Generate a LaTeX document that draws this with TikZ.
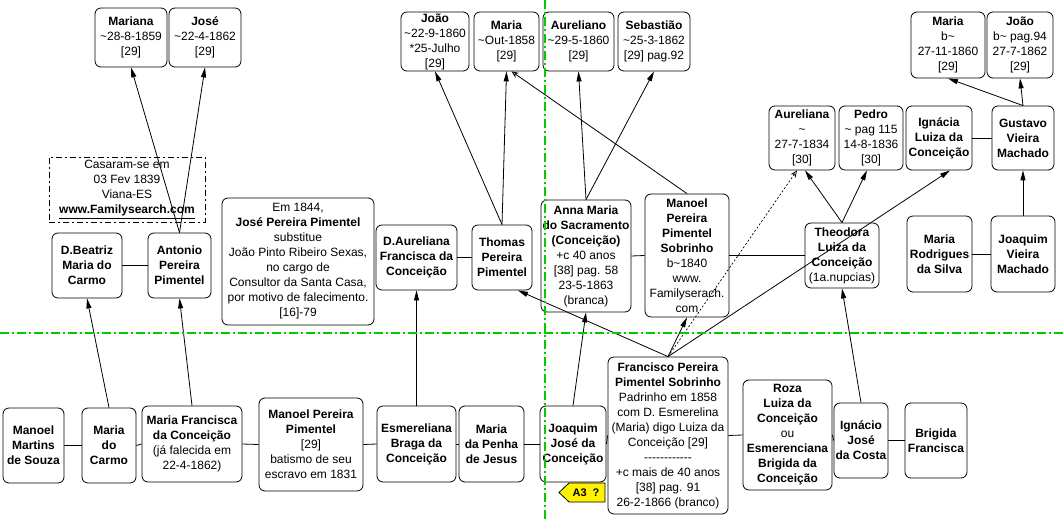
\documentclass[tikz,border=0pt]{standalone}
\usepackage{fontspec}
\setmainfont{Liberation Sans}
\usetikzlibrary{arrows.meta,calc}
\newcommand\tld{\textasciitilde}
\definecolor{guidegreen}{RGB}{0,204,0}
\tikzset{
  box/.style={draw=black,line width=0.8pt,rounded corners=6pt,align=center,inner sep=0pt,font=\fontsize{12}{15}\selectfont},
  note/.style={draw=black,line width=0.8pt,dash pattern=on 6pt off 3pt on 2pt off 3pt,align=center,inner sep=0pt,font=\fontsize{12}{15}\selectfont},
  link/.style={line width=0.8pt},
  arr/.style={line width=0.8pt,-{Triangle[length=10pt,width=5pt]}},
  oarr/.style={line width=0.8pt,-{Stealth[open,length=7pt,width=6pt]}},
  darr/.style={line width=0.7pt,dash pattern=on 2pt off 2pt,-{Stealth[open,length=7pt,width=6pt]}},
  guide/.style={line width=1.3pt,color=guidegreen,dash pattern=on 9pt off 3pt on 2pt off 3pt},
  tag/.style={draw=black,line width=0.8pt,fill=yellow}
}
\newcommand\bx[6]{\node[box,minimum width=#4pt,minimum height=#5pt] (#1) at (#2,#3) {#6};}
\begin{document}
\begin{tikzpicture}[x=1pt,y=-1pt]
\useasboundingbox (0,0) rectangle (1064,521);
% top row left
\bx{mariana}{131}{37.5}{72}{59}{\textbf{Mariana}\\\tld28-8-1859\\{[29]}}
\bx{jose}{205}{37.5}{72}{59}{\textbf{José}\\\tld22-4-1862\\{[29]}}
\node[note,minimum width=156pt,minimum height=65pt] (casaram) at (127,189.5) {Casaram-se em\\03 Fev 1839\\Viana-ES\\\underline{\textbf{www.Familysearch.com}}};
% top row middle
\bx{joao}{435}{41.5}{68}{59}{\textbf{João}\\\tld22-9-1860\\*25-Julho\\{[29]}}
\bx{maria}{506.5}{41.5}{65}{59}{\textbf{Maria}\\\tld Out-1858\\{[29]}}
\bx{aureliano}{578.5}{41.5}{71}{59}{\textbf{Aureliano}\\\tld29-5-1860\\{[29]}}
\bx{sebastiao}{654}{41.5}{72}{59}{\textbf{Sebastião}\\\tld25-3-1862\\{[29] pag.92}}
% top right
\bx{mariab}{948}{45}{74}{66}{\textbf{Maria}\\b\tld\\27-11-1860\\{[29]}}
\bx{joaob}{1020}{45}{66}{66}{\textbf{João}\\b\tld{} pag.94\\27-7-1862\\{[29]}}
\bx{aureliana}{802}{138}{66}{64}{\textbf{Aureliana}\\\tld\\27-7-1834\\{[30]}}
\bx{pedro}{871}{138}{64}{64}{\textbf{Pedro}\\\tld{} pag 115\\14-8-1836\\{[30]}}
\bx{ignacia}{939}{138}{66}{64}{\textbf{Ignácia}\\\textbf{Luiza da}\\\textbf{Conceição}}
\bx{gustavo}{1023}{138}{62}{64}{\textbf{Gustavo}\\\textbf{Vieira}\\\textbf{Machado}}
% middle row
\bx{dbeatriz}{87}{265.5}{70}{65}{\textbf{D.Beatriz}\\\textbf{Maria do}\\\textbf{Carmo}}
\bx{antonio}{179.5}{265.5}{63}{65}{\textbf{Antonio}\\\textbf{Pereira}\\\textbf{Pimentel}}
\bx{em1844}{298}{261.5}{152}{127}{Em 1844,\\\textbf{José Pereira Pimentel}\\substitue\\João Pinto Ribeiro Sexas,\\no cargo de\\Consultor da Santa Casa,\\por motivo de falecimento.\\{[16]-79}}
\bx{daureliana}{416.5}{257.5}{81}{65}{\textbf{D.Aureliana}\\\textbf{Francisca da}\\\textbf{Conceição}}
\bx{thomas}{502}{257.5}{60}{65}{\textbf{Thomas}\\\textbf{Pereira}\\\textbf{Pimentel}}
\bx{anna}{586}{256}{90}{112}{\textbf{Anna Maria}\\\textbf{do Sacramento}\\\textbf{(Conceição)}\\+c 40 anos\\{[38] pag. 58}\\23-5-1863\\(branca)}
\bx{manoels}{687}{255.5}{84}{123}{\textbf{Manoel}\\\textbf{Pereira}\\\textbf{Pimentel}\\\textbf{Sobrinho}\\b\tld1840\\www.\\Familyserach.\\com}
\bx{theodora}{842}{255.5}{74}{65}{\textbf{Theodora}\\\textbf{Luiza da}\\\textbf{Conceição}\\(1a.nupcias)}
\bx{mariar}{939.5}{254}{65}{76}{\textbf{Maria}\\\textbf{Rodrigues}\\\textbf{da Silva}}
\bx{joaquimv}{1023}{254}{64}{76}{\textbf{Joaquim}\\\textbf{Vieira}\\\textbf{Machado}}
% bottom row
\bx{manoelm}{33.5}{445.5}{61}{75}{\textbf{Manoel}\\\textbf{Martins}\\\textbf{de Souza}}
\bx{mariac}{109}{445.5}{54}{75}{\textbf{Maria}\\\textbf{do}\\\textbf{Carmo}}
\bx{mariaf}{192}{444}{100}{76}{\textbf{Maria Francisca}\\\textbf{da Conceição}\\(já falecida em\\22-4-1862)}
\bx{manoelp}{311}{444.5}{104}{93}{\textbf{Manoel Pereira}\\\textbf{Pimentel}\\{[29]}\\batismo de seu\\escravo em 1831}
\bx{esmer}{416.5}{444}{79}{76}{\textbf{Esmereliana}\\\textbf{Braga da}\\\textbf{Conceição}}
\bx{penha}{491.5}{444}{65}{76}{\textbf{Maria}\\\textbf{da Penha}\\\textbf{de Jesus}}
\bx{joaquimj}{573}{444}{66}{76}{\textbf{Joaquim}\\\textbf{José da}\\\textbf{Conceição}}
\bx{francisco}{668}{435.5}{120}{157}{\textbf{Francisco Pereira}\\\textbf{Pimentel Sobrinho}\\Padrinho em 1858\\com D. Esmerelina\\(Maria) digo Luiza da\\Conceição {[29]}\\-{}-{}-{}-{}-{}-{}-{}-{}-{}-{}-{}-\\+c mais de 40 anos\\{[38] pag. 91}\\26-2-1866 (branco)}
\bx{roza}{787.5}{435}{89}{110}{\textbf{Roza}\\\textbf{Luiza da}\\\textbf{Conceição}\\ou\\\textbf{Esmerenciana}\\\textbf{Brigida da}\\\textbf{Conceição}}
\bx{ignacio}{861}{440.5}{54}{75}{\textbf{Ignácio}\\\textbf{José}\\\textbf{da Costa}}
\bx{brigida}{936}{440.5}{62}{75}{\textbf{Brigida}\\\textbf{Francisca}}
% tag
\draw[tag] (559,492.5) -- (569,483) -- (605,483) -- (605,502) -- (569,502) -- cycle;
\node[font=\fontsize{11}{13}\selectfont\bfseries,inner sep=0pt] (a3) at (586,492.5) {A3\ \ ?};
% couple links
\draw[link] (dbeatriz.east) -- (antonio.west);
\draw[link] (daureliana.east) -- (thomas.west);
\draw[link] (anna.east) -- (manoels.west);
\draw[link] (manoels.east) -- (theodora.west);
\draw[link] (mariar.east) -- (joaquimv.west);
\draw[link] (ignacia.east) -- (gustavo.west);
\draw[link] (manoelm.east) -- (mariac.west);
\draw[link] (mariac.east) -- (mariaf.west);
\draw[link] (mariaf.east) -- (manoelp.west);
\draw[link] (manoelp.east) -- (esmer.west);
\draw[link] (esmer.east) -- (penha.west);
\draw[link] (penha.east) -- (joaquimj.west);
\draw[link] (joaquimj.east) -- (francisco.west);
\draw[link] (francisco.east) -- (roza.west);
\draw[link] (roza.east) -- (ignacio.west);
\draw[link] (ignacio.east) -- (brigida.west);
% parent-child arrows
\draw[arr] (antonio.north) -- (mariana.south);
\draw[arr] (antonio.north) -- (jose.south);
\draw[arr] (mariac.north) -- (dbeatriz.south);
\draw[arr] (mariaf.north) -- (antonio.south);
\draw[arr] (esmer.north) -- (daureliana.south);
\draw[arr] (thomas.north) -- (joao.south);
\draw[arr] (thomas.north) -- (maria.south);
\draw[arr] (anna.north) -- (aureliano.south);
\draw[arr] (anna.north) -- (sebastiao.south);
\draw[oarr] (manoels.north) -- ($(maria.south)+(5,0)$);
\draw[arr] (joaquimj.north) -- (anna.south);
\draw[arr] (francisco.north) -- ($(thomas.south)+(16,0)$);
\draw[arr] (francisco.north) -- (manoels.south);
\draw[darr] (francisco.north) -- ($(aureliana.south)+(-5,0)$);
\draw[arr] (francisco.north) -- ($(ignacia.south)+(11,0)$);
\draw[arr] (theodora.north) -- ($(aureliana.south)+(3,0)$);
\draw[arr] (theodora.north) -- ($(pedro.south)+(-4,0)$);
\draw[arr] (ignacio.north) -- (theodora.south);
\draw[arr] (joaquimv.north) -- (gustavo.south);
\draw[arr] (gustavo.north) -- (mariab.south);
\draw[arr] (gustavo.north) -- (joaob.south);
% guide lines
\coordinate (gl) at (0,333);
\coordinate (gr) at (1064,333);
\coordinate (gt) at (545,0);
\coordinate (gb) at (545,521);
\draw[guide] (gl) -- (gr);
\draw[guide] (gt) -- (gb);
\end{tikzpicture}
\end{document}
